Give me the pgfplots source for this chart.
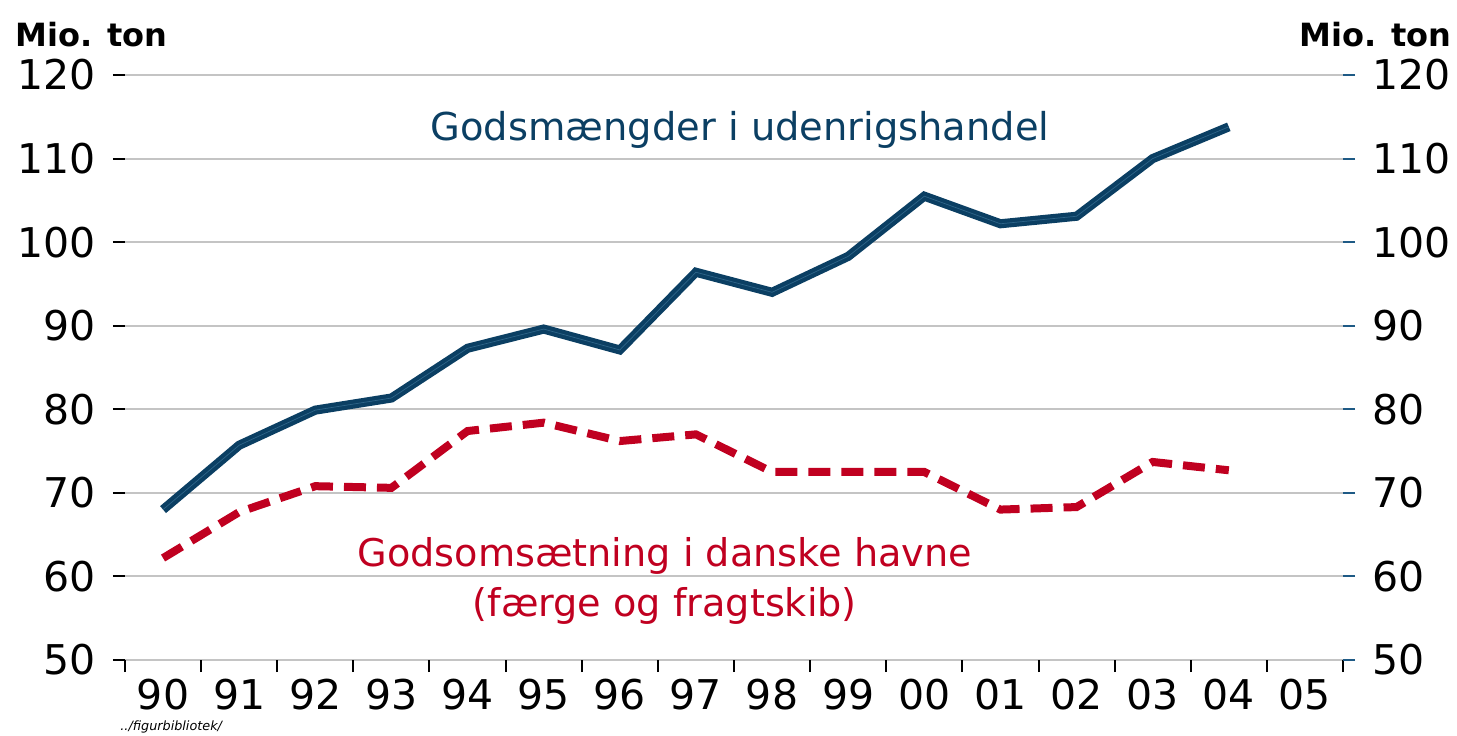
\documentclass[border=0pt]{standalone}
\usepackage{pgfplots}
\usepackage{pgfplotstable}
\pgfplotsset{compat=1.18}
\usepackage{fontspec}
\setmainfont{DejaVu Sans}
\definecolor{gblue}{HTML}{0B3F63}
\definecolor{gbluelight}{HTML}{2E6488}
\definecolor{gred}{HTML}{C00020}
\definecolor{tickblue}{HTML}{1E5A85}
\definecolor{gridgray}{HTML}{C4C4C4}
\pgfplotstableread{
x blue red
0 68.0 62.2
1 75.7 67.7
2 79.9 70.8
3 81.35 70.6
4 87.3 77.4
5 89.6 78.4
6 87.1 76.2
7 96.4 77.0
8 94.0 72.5
9 98.3 72.5
10 105.5 72.5
11 102.2 68.0
12 103.1 68.3
13 110.0 73.7
14 113.8 72.7
}\data
\begin{document}
\begin{tikzpicture}
\useasboundingbox (-62.5pt,-37.5pt) rectangle (666pt,330pt);
\begin{axis}[
  at={(0,0)}, anchor=south west, scale only axis,
  width=609pt, height=292.5pt,
  xmin=-0.5, xmax=15.5, ymin=50, ymax=120,
  axis line style={draw=none},
  ytick={50,60,...,120},
  ymajorgrids, grid style={draw=gridgray, line width=1pt},
  xtick={0,...,15},
  xticklabels={90,91,92,93,94,95,96,97,98,99,00,01,02,03,04,05},
  minor xtick={-0.5,0.5,...,15.5},
  xtick pos=bottom, ytick pos=left,
  tick align=outside, major tick length=6pt, minor tick length=6pt,
  major x tick style={draw=none},
  tick style={black, line width=1pt},
  minor tick style={black, line width=1pt},
  ticklabel style={font=\fontsize{20.5}{24}\selectfont},
  yticklabel style={xshift=-5pt},
  /pgf/number format/assume math mode=true,
  clip=false,
]
\addplot[gblue, line width=2.1pt, double=gbluelight, double distance=0.35pt, line join=miter] table[x=x, y=blue] {\data};
\addplot[gred, line width=4pt, dash pattern=on 11pt off 5.5pt] table[x=x, y=red] {\data};
\node[gblue, font=\fontsize{19.2}{24}\selectfont] at (axis cs:7.58,113.4) {Godsmængder i udenrigshandel};
\node[gred, font=\fontsize{19.1}{25}\selectfont, align=center] at (axis cs:6.59,59.5) {Godsomsætning i danske havne\\[0pt](færge og fragtskib)};
\end{axis}
\begin{axis}[
  at={(0,0)}, anchor=south west, scale only axis,
  width=609pt, height=292.5pt,
  xmin=-0.5, xmax=15.5, ymin=50, ymax=120,
  axis line style={draw=none},
  ytick={50,60,...,120}, xtick=\empty,
  ytick pos=right, yticklabel pos=right,
  tick align=outside, major tick length=6pt,
  tick style={tickblue, line width=1pt},
  ticklabel style={font=\fontsize{20.5}{24}\selectfont},
  yticklabel style={xshift=5pt},
  /pgf/number format/assume math mode=true,
]
\end{axis}
\node[anchor=base west, font=\bfseries\fontsize{16}{20}\selectfont, inner sep=0pt] at (-55pt,306.5pt) {Mio. ton};
\node[anchor=base east, font=\bfseries\fontsize{16}{20}\selectfont, inner sep=0pt] at (663.5pt,306.5pt) {Mio. ton};
\node[anchor=base west, font=\itshape\fontsize{6.4}{7}\selectfont, inner sep=0pt] at (-2.5pt,-35pt) {../figurbibliotek/};
\end{tikzpicture}
\end{document}
